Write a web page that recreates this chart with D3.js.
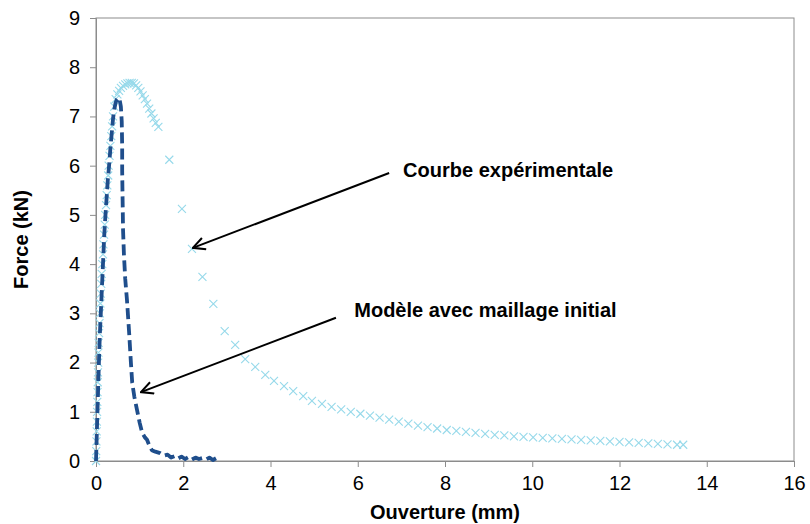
<!DOCTYPE html>
<html><head><meta charset="utf-8">
<script src="https://cdn.jsdelivr.net/npm/d3@7"></script>
<style>body{margin:0;background:#fff}svg{display:block}text{font-family:"Liberation Sans",Arial,sans-serif}</style>
</head><body><svg id="c" width="810" height="524"></svg>
<script>
// Experimental curve (Ouverture mm, Force kN)
const expX = [0,0.005,0.01,0.015,0.02,0.025,0.03,0.035,0.04,0.045,0.05,0.055,0.06,0.07,0.08,0.09,0.10,0.11,0.12,0.13,0.145,0.16,0.17,0.185,0.20,0.21,0.23,0.245,0.26,0.28,0.29,0.31,0.33,0.35,0.37,0.39,0.42,0.45,0.49,0.53,0.57,0.62,0.67,0.72,0.77,0.82,0.87,0.92,0.97,1.02,1.07,1.12,1.17,1.22,1.27,1.32,1.37,1.43,
  1.68,1.97,2.20,2.44,2.69,2.95,3.19,3.42,3.65,3.88,4.08,4.31,4.52,4.75,4.95,5.18,5.40,5.62,5.84,6.06,6.28,6.50,6.72,6.94,7.16,7.38,7.60,7.82,8.04,8.26,8.48,8.70,8.92,9.14,9.36,9.58,9.80,10.02,10.24,10.46,10.68,10.90,11.12,11.34,11.56,11.78,12.00,12.22,12.44,12.66,12.88,13.10,13.32,13.46];
const expY = [0,0.2,0.4,0.6,0.8,1.0,1.2,1.4,1.6,1.8,2.0,2.2,2.4,2.6,2.8,3.0,3.2,3.4,3.6,3.8,4.0,4.2,4.4,4.6,4.8,5.0,5.2,5.4,5.6,5.8,6.0,6.2,6.4,6.6,6.8,7.0,7.2,7.35,7.45,7.52,7.58,7.62,7.65,7.67,7.68,7.68,7.67,7.63,7.58,7.51,7.43,7.35,7.26,7.16,7.06,6.96,6.87,6.79,
  6.12,5.12,4.31,3.74,3.19,2.64,2.36,2.07,1.91,1.75,1.63,1.52,1.42,1.32,1.22,1.16,1.10,1.05,1.00,0.96,0.92,0.88,0.84,0.80,0.76,0.72,0.69,0.66,0.63,0.61,0.59,0.57,0.55,0.53,0.52,0.50,0.49,0.48,0.47,0.46,0.45,0.44,0.43,0.42,0.41,0.40,0.39,0.38,0.37,0.36,0.35,0.34,0.33,0.33];
// Model with initial mesh
const modX = [0,0.01,0.02,0.03,0.04,0.05,0.06,0.07,0.09,0.11,0.13,0.15,0.17,0.19,0.21,0.24,0.27,0.30,0.33,0.36,0.39,0.42,0.45,0.48,0.51,0.54,0.57,0.59,0.60,0.60,0.61,0.62,0.64,0.67,0.71,0.76,0.80,0.83,0.88,0.94,1.00,1.06,1.12,1.17,1.22,1.28,1.36,1.47,1.56,1.64,1.72,1.80,1.88,1.96,2.04,2.12,2.20,2.28,2.36,2.44,2.52,2.60,2.68,2.76,2.84];
const modY = [0,0.3,0.6,0.9,1.2,1.5,1.8,2.1,2.6,3.0,3.4,3.8,4.2,4.6,4.9,5.3,5.7,6.0,6.35,6.65,6.95,7.15,7.28,7.35,7.38,7.35,7.2,6.9,6.4,5.9,5.3,4.7,4.2,3.7,3.27,2.6,2.0,1.59,1.3,1.04,0.78,0.57,0.48,0.43,0.32,0.22,0.19,0.16,0.11,0.13,0.07,0.10,0.05,0.09,0.04,0.08,0.03,0.07,0.04,0.06,0.03,0.07,0.02,0.06,0.04];
const xTicks = [0,2,4,6,8,10,12,14,16];
const yTicks = [0,1,2,3,4,5,6,7,8,9];
const annotations = [
  {text:"Courbe expérimentale", tx:7.04, ty:5.91, x1:6.72, y1:5.85, x2:2.22, y2:4.33},
  {text:"Modèle avec maillage initial", tx:5.92, ty:3.07, x1:5.50, y1:2.91, x2:1.03, y2:1.40}
];

const svg = d3.select("#c");
const L=96, R=794, T=18, B=461;
const x = d3.scaleLinear().domain([0,16]).range([L,R]);
const y = d3.scaleLinear().domain([0,9]).range([B,T]);

// plot border
svg.append("rect").attr("x",L).attr("y",T).attr("width",R-L).attr("height",B-T)
  .attr("fill","none").attr("stroke","#8c8c8c").attr("stroke-width",1);

const xa = svg.append("g").attr("transform",`translate(0,${B})`)
  .call(d3.axisBottom(x).tickValues(xTicks).tickSize(6).tickPadding(9).tickFormat(d3.format("d")));
const ya = svg.append("g").attr("transform",`translate(${L},0)`)
  .call(d3.axisLeft(y).tickValues(yTicks).tickSize(6).tickPadding(10).tickFormat(d3.format("d")));
[xa,ya].forEach(g=>{
  g.select(".domain").attr("stroke","#8c8c8c");
  g.selectAll(".tick line").attr("stroke","#8c8c8c");
  g.selectAll("text").attr("font-size",20).attr("fill","#000").style("font-family","Liberation Sans, Arial, sans-serif");
});

svg.append("text").attr("x",(L+R)/2).attr("y",519).attr("text-anchor","middle")
  .attr("font-size",20).attr("font-weight","bold").text("Ouverture (mm)");
svg.append("text").attr("transform",`translate(28,${(T+B)/2}) rotate(-90)`).attr("text-anchor","middle")
  .attr("font-size",20).attr("font-weight","bold").text("Force (kN)");

// experimental markers (x shapes)
const exp = expX.map((d,i)=>[d,expY[i]]);
const s=4;
svg.append("g").selectAll("path").data(exp).join("path")
  .attr("d",d=>{const cx=x(d[0]),cy=y(d[1]);return `M${cx-s},${cy-s}L${cx+s},${cy+s}M${cx-s},${cy+s}L${cx+s},${cy-s}`;})
  .attr("stroke","#96d9ea").attr("stroke-width",1.1).attr("fill","none");

// model dashed line
const mod = modX.map((d,i)=>[d,modY[i]]);
svg.append("path").datum(mod)
  .attr("d",d3.line().x(d=>x(d[0])).y(d=>y(d[1])))
  .attr("fill","none").attr("stroke","#1f4e8c").attr("stroke-width",3.8)
  .attr("stroke-dasharray","11,5").attr("stroke-linejoin","round");

// annotations
svg.append("defs").append("marker").attr("id","ah").attr("viewBox","0 0 14 14")
  .attr("refX",13).attr("refY",7).attr("markerWidth",14).attr("markerHeight",14)
  .attr("markerUnits","userSpaceOnUse").attr("orient","auto")
  .append("path").attr("d","M1,1 L13,7 L1,13").attr("fill","none").attr("stroke","#000").attr("stroke-width",2);
const ag = svg.append("g");
annotations.forEach(a=>{
  ag.append("line").attr("x1",x(a.x1)).attr("y1",y(a.y1)).attr("x2",x(a.x2)).attr("y2",y(a.y2))
    .attr("stroke","#000").attr("stroke-width",2).attr("marker-end","url(#ah)");
  ag.append("text").attr("x",x(a.tx)).attr("y",y(a.ty)).attr("dy","0.35em")
    .attr("font-size",20).attr("font-weight","bold").text(a.text);
});
</script></body></html>
